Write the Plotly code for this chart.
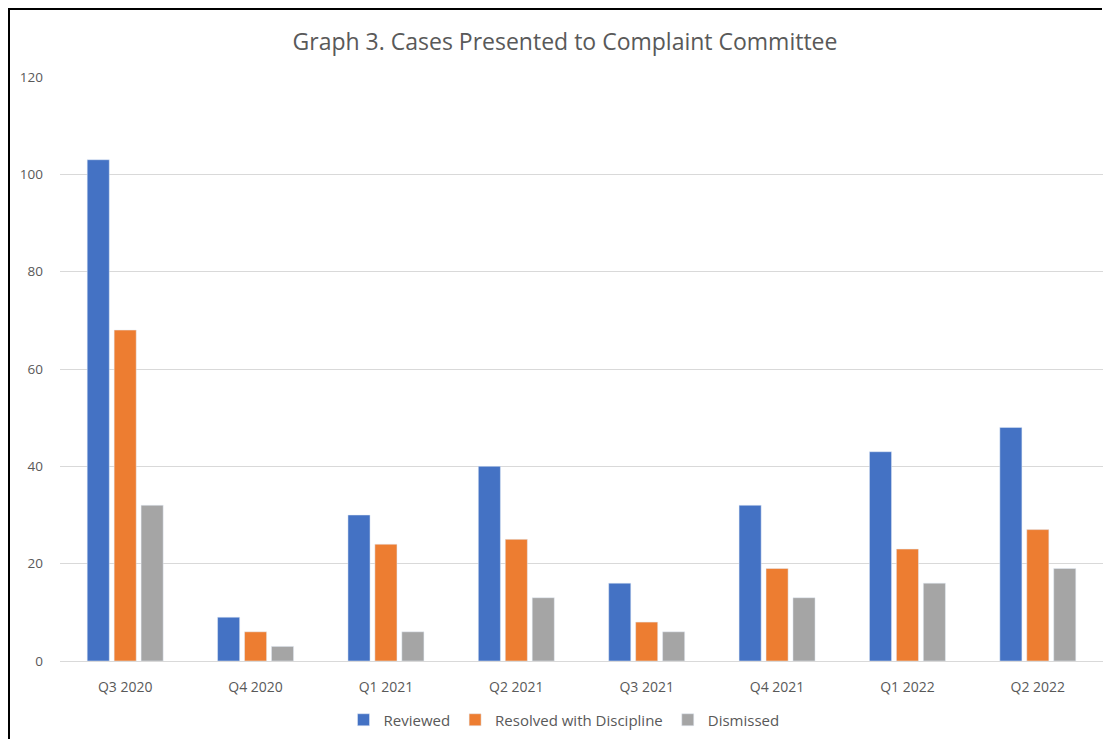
import plotly.graph_objects as go

categories = ["Q3 2020", "Q4 2020", "Q1 2021", "Q2 2021", "Q3 2021", "Q4 2021", "Q1 2022", "Q2 2022"]
reviewed = [103, 9, 30, 40, 16, 32, 43, 48]
resolved = [68, 6, 24, 25, 8, 19, 23, 27]
dismissed = [32, 3, 6, 13, 6, 13, 16, 19]
y_ticks = [0, 20, 40, 60, 80, 100, 120]

# page has an 8px body margin -> keep the figure inside the window (no scrollbars)
W, H = 1095, 731
ml, mr, mt, mb = 52, 0, 69, 78
pw = W - ml - mr
ph = H - mt - mb

def px_x(p):
    return (p - ml) / pw

def px_y(p):
    return (H - mb - p) / ph

TXT = "#595959"
FONT = "Open Sans, sans-serif"

fig = go.Figure()
fig.add_trace(go.Bar(name="Reviewed", x=categories, y=reviewed, marker_color="#4472C4"))
fig.add_trace(go.Bar(name="Resolved with Discipline", x=categories, y=resolved, marker_color="#ED7D31"))
fig.add_trace(go.Bar(name="Dismissed", x=categories, y=dismissed, marker_color="#A5A5A5"))

fig.update_layout(
    width=W, height=H,
    margin=dict(l=ml, r=mr, t=mt, b=mb),
    paper_bgcolor="white", plot_bgcolor="white",
    barmode="group", bargap=0.38, bargroupgap=0.18,
    font=dict(family=FONT, color=TXT, size=14),
    title=dict(text="Graph 3. Cases Presented to Complaint Committee",
               x=557 / W, xref="container", xanchor="center", y=1 - 34 / H, yanchor="middle",
               font=dict(size=23, color=TXT, family=FONT)),
    xaxis=dict(showgrid=False, showline=True, linecolor="#D9D9D9", linewidth=1,
               ticks="", tickfont=dict(size=14, color=TXT, family=FONT), ticklabelstandoff=13),
    yaxis=dict(range=[0, 120], tickvals=y_ticks, showgrid=True, gridcolor="#D9D9D9",
               gridwidth=1, zeroline=False, showline=False, ticks="",
               tickfont=dict(size=13.5, color=TXT, family=FONT), ticklabelstandoff=16),
    legend=dict(orientation="h", x=px_x(556), xanchor="center", y=px_y(712), yanchor="middle",
                font=dict(size=15, color=TXT, family=FONT), itemwidth=30),
    showlegend=True,
)

fig.add_shape(type="line", xref="paper", yref="paper",
              x0=px_x(1), x1=px_x(1), y0=px_y(0), y1=px_y(740),
              line=dict(color="black", width=2))
fig.add_shape(type="line", xref="paper", yref="paper",
              x0=px_x(0), x1=px_x(1094), y0=px_y(1), y1=px_y(1),
              line=dict(color="black", width=2))

fig.write_html("out.html")
